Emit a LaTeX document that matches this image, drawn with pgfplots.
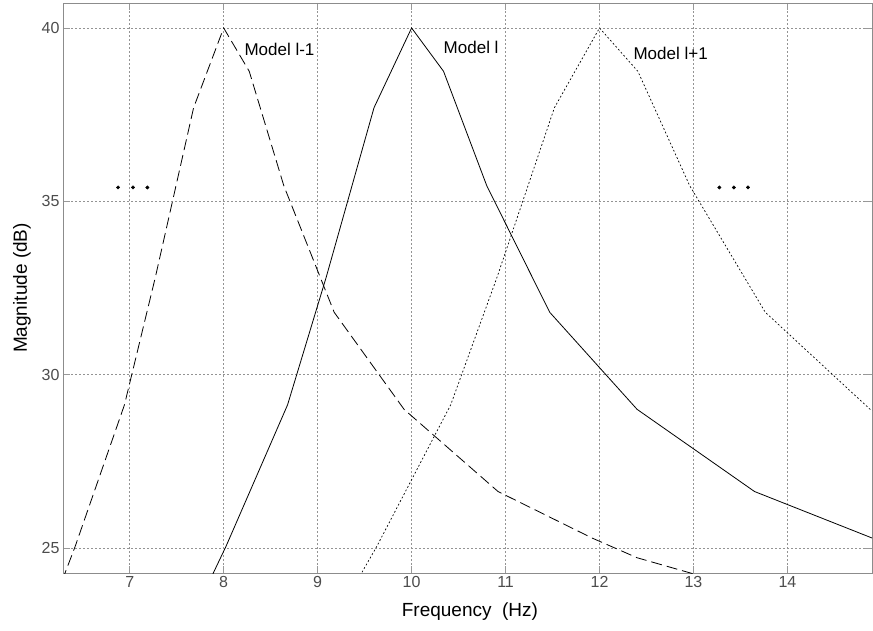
\documentclass[border=0pt]{standalone}
\usepackage{fontspec}
\setmainfont{Liberation Sans}
\usepackage{pgfplots}
\pgfplotsset{compat=1.18}
\begin{document}
\begin{tikzpicture}
\begin{axis}[
  scale only axis,
  width=809pt, height=570pt,
  xmin=6.29, xmax=14.9,
  ymin=24.28, ymax=40.72,
  xtick={7,8,9,10,11,12,13,14},
  ytick={25,30,35,40},
  grid=major,
  major grid style={gray!85, line width=0.6pt, dash pattern=on 2pt off 2pt},
  tick align=inside,
  major tick length=7pt,
  tick style={gray!80, line width=0.8pt},
  axis line style={gray!90, line width=0.9pt},
  /pgf/number format/assume math mode=true,
  tick label style={font=\fontsize{16}{16}\selectfont, text=black!70},
  label style={font=\fontsize{19}{19}\selectfont},
  xlabel={Frequency~~(Hz)},
  ylabel={Magnitude (dB)},
  xlabel style={at={(axis description cs:0.503,-0.068)}, anchor=center},
  ylabel style={at={(axis description cs:-0.0507,0.5)}, anchor=center},
  clip=true,
]
% Model l-1 (dashed)
\addplot[black, line width=0.8pt, dash pattern=on 11pt off 5pt] coordinates {
 (6.16,23.2) (6.42,25.05) (6.944,29.13) (7.272,32.8) (7.68,37.7) (8,40)
 (8.272,38.75) (8.64,35.45) (9.176,31.8) (9.92,29.0) (10.92,26.63)
 (11.92,25.29) (12.40,24.72) (13.2,24.1)
};
% Model l (solid)
\addplot[black, line width=0.8pt] coordinates {
 (7.7,23.2) (8.025,25.05) (8.68,29.13) (9.09,32.8) (9.6,37.7) (10,40)
 (10.34,38.75) (10.8,35.45) (11.47,31.8) (12.4,29.0) (13.65,26.63)
 (14.9,25.29) (15.5,24.72)
};
% Model l+1 (dotted)
\addplot[black, line width=0.7pt, dash pattern=on 1.8pt off 2.2pt] coordinates {
 (9.24,23.2) (9.63,25.05) (10.416,29.13) (10.908,32.8) (11.52,37.7) (12,40)
 (12.408,38.75) (12.96,35.45) (13.764,31.8) (14.88,29.0) (16.38,26.63)
};
% ellipsis dots
\addplot[only marks, mark=*, mark size=1.7pt, black] coordinates {
 (6.876,35.4) (7.035,35.4) (7.188,35.4)
 (13.275,35.4) (13.43,35.4) (13.58,35.4)
};
\node[anchor=base west, inner sep=0pt, font=\fontsize{17}{17}\selectfont] at (axis cs:8.22,39.2) {Model l-1};
\node[anchor=base west, inner sep=0pt, font=\fontsize{17}{17}\selectfont] at (axis cs:10.34,39.26) {Model l};
\node[anchor=base west, inner sep=0pt, font=\fontsize{17}{17}\selectfont] at (axis cs:12.36,39.09) {Model l+1};
\end{axis}
\path (current axis.south west) ++(-63pt,-57pt);
\path (current axis.north east) ++(1pt,3pt);
\end{tikzpicture}
\end{document}
